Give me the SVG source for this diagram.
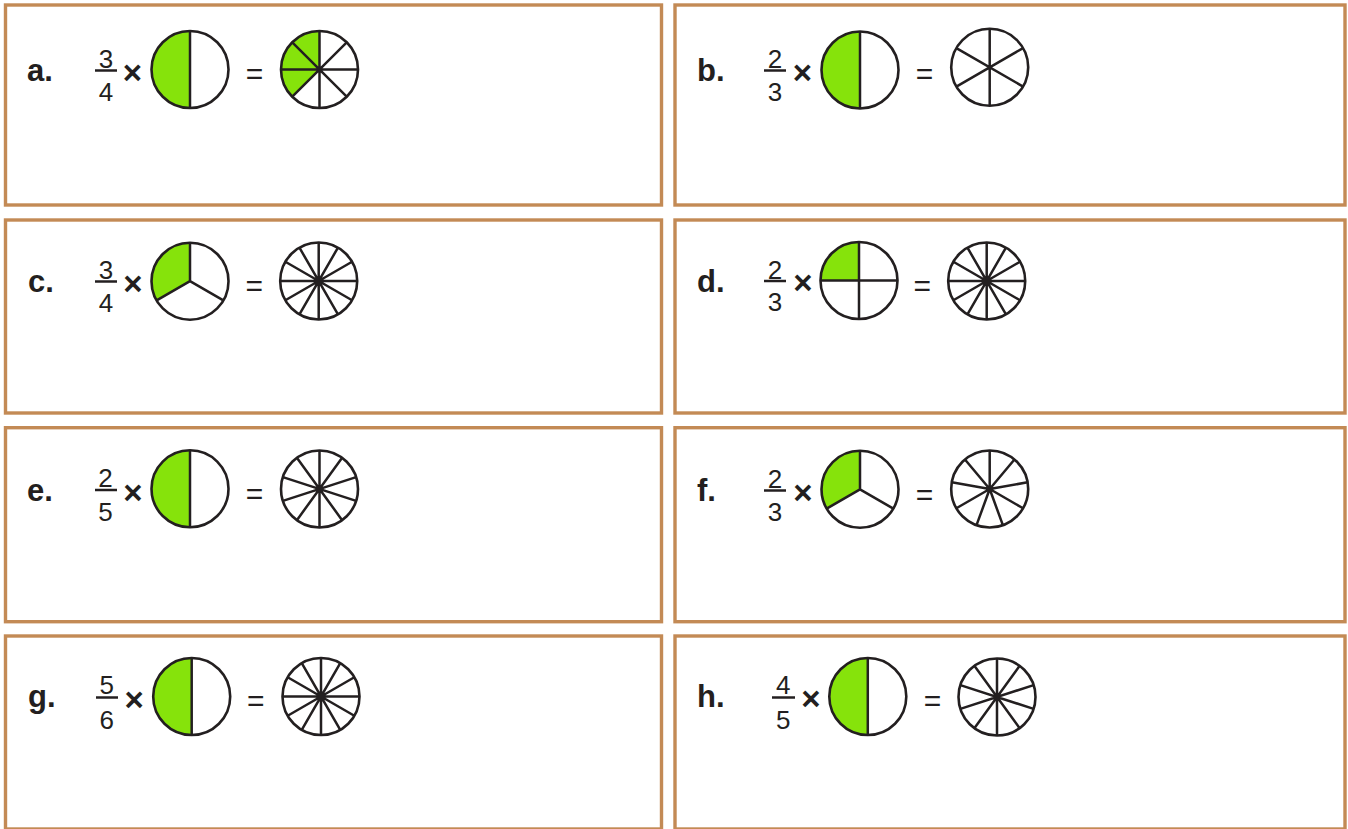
<svg xmlns="http://www.w3.org/2000/svg" width="1348" height="829" viewBox="0 0 1348 829">
<defs>
<style>
.box{fill:#fff;stroke:#C38A55;stroke-width:3.4}
.bg{fill:#fff}
.gr{fill:#86E30B}
.ring{fill:none;stroke:#231F20;stroke-width:2.6}
.ln{stroke:#231F20;stroke-width:2.5;fill:none}
.bar{stroke:#231F20;stroke-width:2.5}
.lbl{font-family:"Liberation Sans",Arial,sans-serif;font-weight:bold;font-size:31px;fill:#231F20}
.num{font-family:"Liberation Sans",Arial,sans-serif;font-size:26px;text-anchor:middle;fill:#231F20}
.tm{font-family:"Liberation Sans",Arial,sans-serif;font-weight:bold;font-size:33px;text-anchor:middle;fill:#231F20}
.eq{font-family:"Liberation Sans",Arial,sans-serif;font-size:30px;text-anchor:middle;fill:#231F20}
</style>
<circle id="disc" r="38.5" class="bg"/>
<path id="half" class="gr" d="M0,-38.5A38.5,38.5 0 0 0 0,38.5Z"/>
<g id="s12" class="ln"><path d="M-38.5,0H38.5M0,-38.5V38.5M33.34,-19.25L-33.34,19.25M19.25,-33.34L-19.25,33.34M-19.25,-33.34L19.25,33.34M-33.34,-19.25L33.34,19.25"/></g>
<g id="s10" class="ln"><path d="M0,-38.5V38.5M36.62,-11.9L-36.62,11.9M22.63,-31.15L-22.63,31.15M-22.63,-31.15L22.63,31.15M-36.62,-11.9L36.62,11.9"/></g>
<g id="s3" class="ln"><path d="M0,-38.5V0M0,0L-33.34,19.25M0,0L33.34,19.25"/></g>
</defs>
<rect width="1348" height="829" fill="#fff"/>

<g id="panel-a">
<rect class="box" x="5.5" y="5" width="656" height="200"/>
<text class="lbl" x="27" y="81">a.</text>
<text class="num" x="106" y="68">3</text><line class="bar" x1="95" y1="70.5" x2="117" y2="70.5"/><text class="num" x="106" y="100.5">4</text>
<text class="tm" x="132.5" y="84">×</text>
<g transform="translate(190,69.5)"><use href="#disc"/><use href="#half"/><path class="ln" d="M0,-38.5V38.5"/><circle class="ring" r="38.5"/></g>
<text class="eq" x="254.5" y="84">=</text>
<g transform="translate(319.5,69.5)"><use href="#disc"/><path class="gr" d="M0,0L0,-38.5A38.5,38.5 0 0 0 -27.22,27.22Z"/><path class="ln" d="M-38.5,0H38.5M0,-38.5V38.5M27.22,-27.22L-27.22,27.22M-27.22,-27.22L27.22,27.22"/><circle class="ring" r="38.5"/></g>
</g>

<g id="panel-b">
<rect class="box" x="675" y="5" width="670" height="200"/>
<text class="lbl" x="697" y="81">b.</text>
<text class="num" x="775" y="68">2</text><line class="bar" x1="764" y1="70.5" x2="786" y2="70.5"/><text class="num" x="775" y="100.5">3</text>
<text class="tm" x="802.5" y="84">×</text>
<g transform="translate(860,70)"><use href="#disc"/><use href="#half"/><path class="ln" d="M0,-38.5V38.5"/><circle class="ring" r="38.5"/></g>
<text class="eq" x="924.5" y="84">=</text>
<g transform="translate(989.7,67.3)"><use href="#disc"/><path class="ln" d="M0,-38.5V38.5M-33.34,-19.25L33.34,19.25M33.34,-19.25L-33.34,19.25"/><circle class="ring" r="38.5"/></g>
</g>

<g id="panel-c">
<rect class="box" x="5.5" y="220" width="656" height="193"/>
<text class="lbl" x="28" y="292">c.</text>
<text class="num" x="106" y="278.5">3</text><line class="bar" x1="95" y1="281.5" x2="117" y2="281.5"/><text class="num" x="106" y="312">4</text>
<text class="tm" x="133" y="294.5">×</text>
<g transform="translate(190,281.2)"><use href="#disc"/><path class="gr" d="M0,0L0,-38.5A38.5,38.5 0 0 0 -33.34,19.25Z"/><use href="#s3"/><circle class="ring" r="38.5"/></g>
<text class="eq" x="254.2" y="295.5">=</text>
<g transform="translate(318.7,281)"><use href="#disc"/><use href="#s12"/><circle class="ring" r="38.5"/></g>
</g>

<g id="panel-d">
<rect class="box" x="675" y="220" width="670" height="193"/>
<text class="lbl" x="697" y="292">d.</text>
<text class="num" x="775" y="278.5">2</text><line class="bar" x1="764" y1="281" x2="786" y2="281"/><text class="num" x="775" y="311">3</text>
<text class="tm" x="803" y="294">×</text>
<g transform="translate(859,280.5)"><use href="#disc"/><path class="gr" d="M0,0L0,-38.5A38.5,38.5 0 0 0 -38.5,0Z"/><path class="ln" d="M-38.5,0H38.5M0,-38.5V38.5"/><circle class="ring" r="38.5"/></g>
<text class="eq" x="922.2" y="295.5">=</text>
<g transform="translate(986.7,281)"><use href="#disc"/><use href="#s12"/><circle class="ring" r="38.5"/></g>
</g>

<g id="panel-e">
<rect class="box" x="5.5" y="427.7" width="656" height="194"/>
<text class="lbl" x="27" y="500.5">e.</text>
<text class="num" x="105.5" y="487">2</text><line class="bar" x1="95" y1="490" x2="117" y2="490"/><text class="num" x="105.5" y="520.5">5</text>
<text class="tm" x="133" y="503.5">×</text>
<g transform="translate(190,488.8)"><use href="#disc"/><use href="#half"/><path class="ln" d="M0,-38.5V38.5"/><circle class="ring" r="38.5"/></g>
<text class="eq" x="254.5" y="504">=</text>
<g transform="translate(319.5,489)"><use href="#disc"/><use href="#s10"/><circle class="ring" r="38.5"/></g>
</g>

<g id="panel-f">
<rect class="box" x="675" y="427.7" width="670" height="194"/>
<text class="lbl" x="697" y="500.5">f.</text>
<text class="num" x="775" y="488">2</text><line class="bar" x1="764" y1="490.5" x2="786" y2="490.5"/><text class="num" x="775" y="520.5">3</text>
<text class="tm" x="803" y="503.5">×</text>
<g transform="translate(860,489.3)"><use href="#disc"/><path class="gr" d="M0,0L0,-38.5A38.5,38.5 0 0 0 -33.34,19.25Z"/><use href="#s3"/><circle class="ring" r="38.5"/></g>
<text class="eq" x="924.5" y="504.5">=</text>
<g transform="translate(989.7,489)"><use href="#disc"/><path class="ln" d="M0,0V-38.5M0,0L24.75,-29.49M0,0L37.91,-6.69M0,0L33.34,19.25M0,0L13.17,36.18M0,0L-13.17,36.18M0,0L-33.34,19.25M0,0L-37.91,-6.69M0,0L-24.75,-29.49"/><circle class="ring" r="38.5"/></g>
</g>

<g id="panel-g">
<rect class="box" x="5.5" y="636" width="656" height="193"/>
<text class="lbl" x="28" y="706.5">g.</text>
<text class="num" x="106.8" y="693.5">5</text><line class="bar" x1="96" y1="697.5" x2="118" y2="697.5"/><text class="num" x="106.8" y="728.5">6</text>
<text class="tm" x="134.2" y="710.5">×</text>
<g transform="translate(191.7,696.5)"><use href="#disc"/><use href="#half"/><path class="ln" d="M0,-38.5V38.5"/><circle class="ring" r="38.5"/></g>
<text class="eq" x="255.8" y="711">=</text>
<g transform="translate(321,696.5)"><use href="#disc"/><use href="#s12"/><circle class="ring" r="38.5"/></g>
</g>

<g id="panel-h">
<rect class="box" x="675" y="636" width="670" height="193"/>
<text class="lbl" x="697" y="706.5">h.</text>
<text class="num" x="783.3" y="693.5">4</text><line class="bar" x1="772" y1="697.5" x2="795" y2="697.5"/><text class="num" x="783.3" y="728.5">5</text>
<text class="tm" x="810.8" y="710">×</text>
<g transform="translate(867.8,696.5)"><use href="#disc"/><use href="#half"/><path class="ln" d="M0,-38.5V38.5"/><circle class="ring" r="38.5"/></g>
<text class="eq" x="932.5" y="711">=</text>
<g transform="translate(997,697)"><use href="#disc"/><use href="#s10"/><circle class="ring" r="38.5"/></g>
</g>
</svg>
